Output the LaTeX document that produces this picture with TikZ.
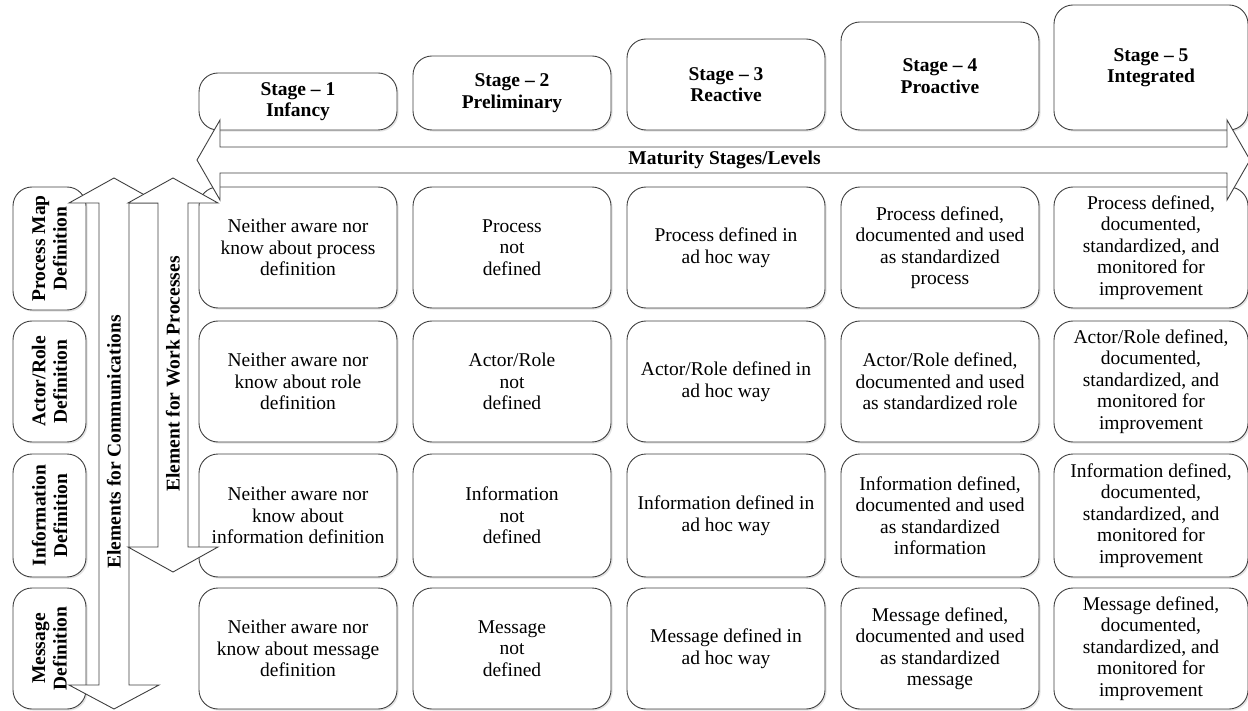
\documentclass[tikz,border=0pt]{standalone}
\usepackage{fontspec}
\setmainfont{Liberation Serif}
\usetikzlibrary{shadows}
\definecolor{linec}{gray}{0.25}
\newcommand\fs{\fontsize{19.5}{21.5}\selectfont}
\begin{document}
\begin{tikzpicture}[x=1pt,y=-1pt,
  box/.style={draw=linec, line width=0.9pt, rounded corners=19pt, fill=white,
    inner sep=0pt, align=center, font=\fs,
    drop shadow={shadow xshift=1.6pt, shadow yshift=-1.6pt, fill=black!22}},
  cell/.style={box, minimum width=198pt, minimum height=121pt},
  stagebox/.style={box, minimum width=198pt, font=\fs\bfseries},
  rowlab/.style={box, minimum width=121pt, minimum height=73pt, rotate=90, font=\fs\bfseries},
  blockarrow/.style={draw=linec, line width=0.9pt, fill=white, line join=miter},
  arrowlab/.style={font=\fs\bfseries, inner sep=0pt}]
\useasboundingbox (0,0) rectangle (1248,711);

% row labels
\node[rowlab, minimum width=123pt] (l1) at (49.5,248.5) {Process Map\\Definition};
\node[rowlab] (l2) at (49.5,381.5) {Actor/Role\\Definition};
\node[rowlab, minimum width=123pt] (l3) at (49.5,515.5) {Information\\Definition};
\node[rowlab] (l4) at (49.5,648.5) {Message\\Definition};

% stage headers
\node[stagebox, minimum height=57pt] (s1) at (298,101.5) {Stage -- 1\\Infancy};
\node[stagebox, minimum height=74pt] (s2) at (512,93) {Stage -- 2\\Preliminary};
\node[stagebox, minimum height=91pt] (s3) at (726,84.5) {Stage -- 3\\Reactive};
\node[stagebox, minimum height=108pt] (s4) at (940,76) {Stage -- 4\\Proactive};
\node[stagebox, minimum height=125pt, minimum width=194pt] (s5) at (1151,67.5) {Stage -- 5\\Integrated};

% row 1
\node[cell] (c11) at (298,247.5) {Neither aware nor\\know about process\\definition};
\node[cell] (c12) at (512,247.5) {Process\\not\\defined};
\node[cell] (c13) at (726,247.5) {Process defined in\\ad hoc way};
\node[cell] (c14) at (940,247.5) {Process defined,\\documented and used\\as standardized\\process};
\node[cell, minimum width=194pt] (c15) at (1151,247.5) {Process defined,\\documented,\\standardized, and\\monitored for\\improvement};
% row 2
\node[cell] (c21) at (298,381.5) {Neither aware nor\\know about role\\definition};
\node[cell] (c22) at (512,381.5) {Actor/Role\\not\\defined};
\node[cell] (c23) at (726,381.5) {Actor/Role defined in\\ad hoc way};
\node[cell] (c24) at (940,381.5) {Actor/Role defined,\\documented and used\\as standardized role};
\node[cell, minimum width=194pt] (c25) at (1151,381.5) {Actor/Role defined,\\documented,\\standardized, and\\monitored for\\improvement};
% row 3
\node[cell, minimum height=123pt] (c31) at (298,515.5) {Neither aware nor\\know about\\information definition};
\node[cell, minimum height=123pt] (c32) at (512,515.5) {Information\\not\\defined};
\node[cell, minimum height=123pt] (c33) at (726,515.5) {Information defined in\\ad hoc way};
\node[cell, minimum height=123pt] (c34) at (940,515.5) {Information defined,\\documented and used\\as standardized\\information};
\node[cell, minimum height=123pt, minimum width=194pt] (c35) at (1151,515.5) {Information defined,\\documented,\\standardized, and\\monitored for\\improvement};
% row 4
\node[cell] (c41) at (298,648.5) {Neither aware nor\\know about message\\definition};
\node[cell] (c42) at (512,648.5) {Message\\not\\defined};
\node[cell] (c43) at (726,648.5) {Message defined in\\ad hoc way};
\node[cell] (c44) at (940,648.5) {Message defined,\\documented and used\\as standardized\\message};
\node[cell, minimum width=194pt] (c45) at (1151,648.5) {Message defined,\\documented,\\standardized, and\\monitored for\\improvement};

% vertical arrow: communications
\draw[blockarrow] (114,178) -- (159,203) -- (129,203) -- (129,685) -- (159,685) -- (114,709)
  -- (69,685) -- (99,685) -- (99,203) -- (69,203) -- cycle;
\node[arrowlab, rotate=90] (acom) at (114,442) {Elements for Communications};
% vertical arrow: work processes
\draw[blockarrow] (173,178) -- (218,203) -- (188,203) -- (188,547) -- (218,547) -- (173,572)
  -- (128,547) -- (158,547) -- (158,203) -- (128,203) -- cycle;
\node[arrowlab, rotate=90] (awork) at (173,374) {Element for Work Processes};
% horizontal arrow: maturity
\draw[blockarrow] (197,160) -- (220,120) -- (220,147) -- (1227,147) -- (1227,120) -- (1250,160)
  -- (1227,200) -- (1227,173) -- (220,173) -- (220,200) -- cycle;
\node[arrowlab] (amat) at (724.5,160) {Maturity Stages/Levels};
\end{tikzpicture}
\end{document}
